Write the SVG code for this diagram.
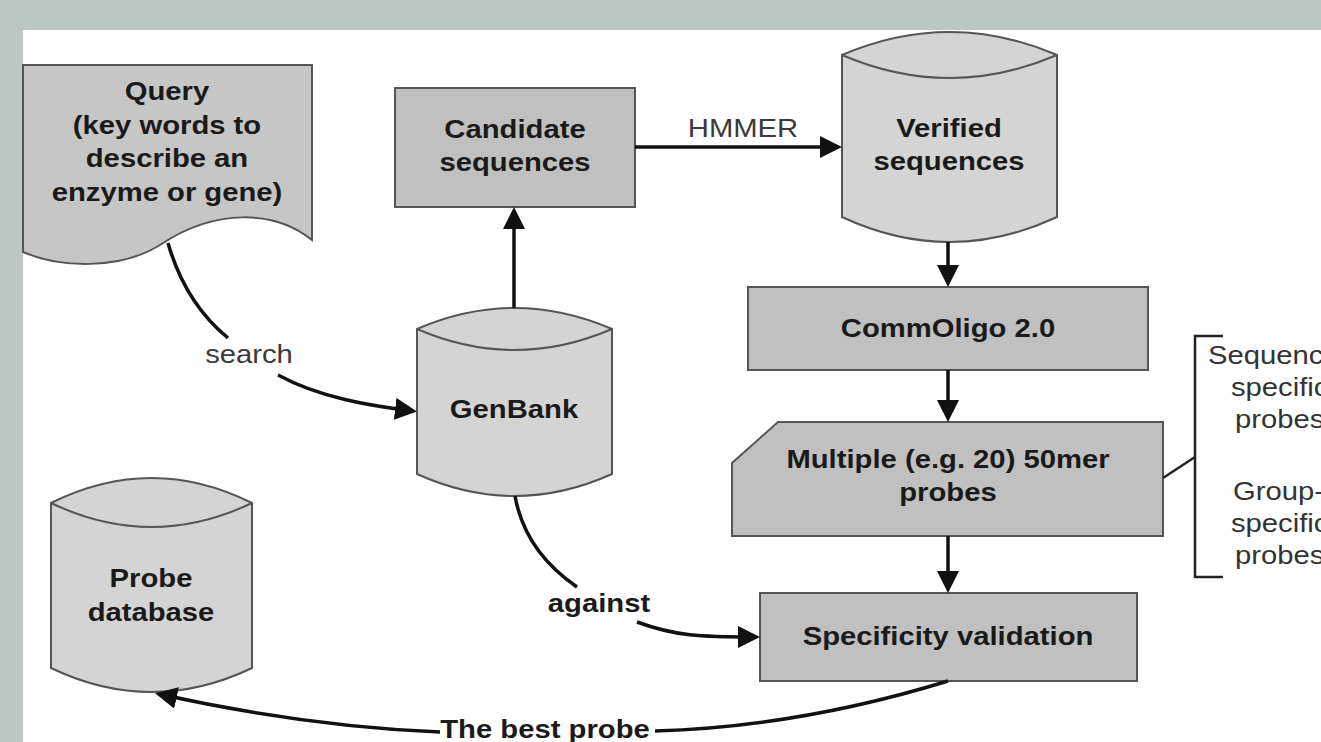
<svg xmlns="http://www.w3.org/2000/svg" width="1321" height="742" viewBox="0 0 1321 742">
<style>
.box{fill:#c0c0c0;stroke:#555;stroke-width:2}
.cyl{fill:#d4d4d4;stroke:#555;stroke-width:2}
.doc{fill:#c6c6c6;stroke:#555;stroke-width:2}
.lbl{font-family:"Liberation Sans",Arial,sans-serif;font-size:25px;font-weight:bold;fill:#1a1a1a;text-anchor:middle}
.edge{font-family:"Liberation Sans",Arial,sans-serif;font-size:25px;fill:#3a3a3a;text-anchor:middle}
.side{font-family:"Liberation Sans",Arial,sans-serif;font-size:25px;fill:#333;text-anchor:start}
.con{fill:none;stroke:#111;stroke-width:3.5}
.arr{marker-end:url(#ah)}
</style>
<defs>
<marker id="ah" markerUnits="userSpaceOnUse" markerWidth="22" markerHeight="22" refX="18" refY="11" orient="auto">
<path d="M0,0 L22,11 L0,22 z" fill="#111"/>
</marker>
</defs>
<rect x="0" y="0" width="1321" height="742" fill="#bcc6c3"/>
<rect x="23" y="30" width="1298" height="712" fill="#ffffff"/>

<g id="query">
<path class="doc" d="M23,65 H312 V240 C275,210 215,208 160,245 C120,270 60,268 23,252 Z"/>
<g transform="translate(167,0) scale(1.17,1)">
<text class="lbl" x="0" y="100">Query</text>
<text class="lbl" x="0" y="134">(key words to</text>
<text class="lbl" x="0" y="167">describe an</text>
<text class="lbl" x="0" y="201">enzyme or gene)</text>
</g>
</g>

<g id="candidate">
<rect class="box" x="395" y="88" width="240" height="119"/>
<g transform="translate(515,0) scale(1.17,1)">
<text class="lbl" x="0" y="138">Candidate</text>
<text class="lbl" x="0" y="171">sequences</text>
</g>
</g>

<g id="verified">
<path class="cyl" d="M842,55 Q949.5,9 1057,55 V217 Q949.5,267 842,217 Z"/>
<path class="cyl" d="M842,55 Q949.5,101 1057,55" fill="none"/>
<g transform="translate(949,0) scale(1.17,1)">
<text class="lbl" x="0" y="137">Verified</text>
<text class="lbl" x="0" y="170">sequences</text>
</g>
</g>

<g id="genbank">
<path class="cyl" d="M417,329 Q514.5,287 612,329 V474 Q514.5,518 417,474 Z"/>
<path class="cyl" d="M417,329 Q514.5,371 612,329" fill="none"/>
<g transform="translate(514,0) scale(1.17,1)">
<text class="lbl" x="0" y="418">GenBank</text>
</g>
</g>

<g id="commoligo">
<rect class="box" x="748" y="287" width="400" height="83"/>
<g transform="translate(948,0) scale(1.17,1)">
<text class="lbl" x="0" y="337">CommOligo 2.0</text>
</g>
</g>

<g id="multiple">
<path class="box" d="M778,422 H1163 V536 H732 V463 Z"/>
<g transform="translate(948,0) scale(1.17,1)">
<text class="lbl" x="0" y="468">Multiple (e.g. 20) 50mer</text>
<text class="lbl" x="0" y="501">probes</text>
</g>
</g>

<g id="specificity">
<rect class="box" x="760" y="593" width="377" height="88"/>
<g transform="translate(948,0) scale(1.17,1)">
<text class="lbl" x="0" y="645">Specificity validation</text>
</g>
</g>

<g id="probedb">
<path class="cyl" d="M51,503 Q151.5,453 252,503 V668 Q151.5,716 51,668 Z"/>
<path class="cyl" d="M51,503 Q151.5,551 252,503" fill="none"/>
<g transform="translate(151,0) scale(1.17,1)">
<text class="lbl" x="0" y="587">Probe</text>
<text class="lbl" x="0" y="621">database</text>
</g>
</g>

<g id="probe-types">
<path d="M1223,336 H1195 V577 H1223" fill="none" stroke="#222" stroke-width="2.5"/>
<g transform="translate(1208,0) scale(1.17,1)">
<text class="side" x="0" y="364">Sequenc</text>
</g>
<g transform="translate(1231,0) scale(1.17,1)">
<text class="side" x="0" y="396">specific</text>
</g>
<g transform="translate(1235,0) scale(1.17,1)">
<text class="side" x="0" y="428">probes</text>
</g>
<g transform="translate(1233,0) scale(1.17,1)">
<text class="side" x="0" y="500">Group-</text>
</g>
<g transform="translate(1231,0) scale(1.17,1)">
<text class="side" x="0" y="532">specific</text>
</g>
<g transform="translate(1235,0) scale(1.17,1)">
<text class="side" x="0" y="564">probes</text>
</g>
</g>

<g id="connectors">
<path class="con" d="M168,243 C180,285 200,315 228,338"/>
<path class="con arr" d="M278,375 C320,398 372,406 413,411"/>
<path class="con arr" d="M514,308 V211"/>
<path class="con arr" d="M635,147 H838"/>
<path class="con arr" d="M948,242 V283"/>
<path class="con arr" d="M948,370 V418"/>
<path class="con arr" d="M948,536 V589"/>
<path class="con" d="M515,496 C522,535 545,565 577,587"/>
<path class="con arr" d="M637,622 C675,636 700,637 756,637"/>
<path class="con" d="M948,681 C860,708 760,728 655,731"/>
<path class="con arr" d="M440,732 C340,728 240,712 159,694"/>
<path d="M1163,478 L1195,457" fill="none" stroke="#222" stroke-width="2.5"/>
<g transform="translate(743,0) scale(1.17,1)">
<text class="edge" x="0" y="137">HMMER</text>
</g>
<g transform="translate(249,0) scale(1.17,1)">
<text class="edge" x="0" y="363">search</text>
</g>
<g transform="translate(599,0) scale(1.17,1)">
<text class="lbl" x="0" y="612">against</text>
</g>
<g transform="translate(545,0) scale(1.17,1)">
<text class="lbl" x="0" y="738">The best probe</text>
</g>
</g>
</svg>
